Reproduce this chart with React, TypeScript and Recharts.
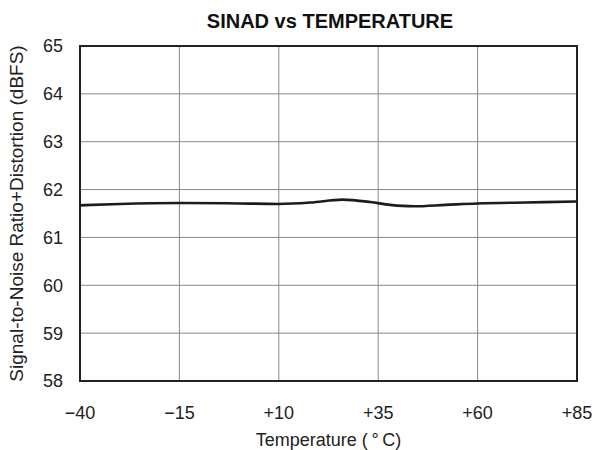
import React from "react";
import {
  LineChart,
  Line,
  XAxis,
  YAxis,
  CartesianGrid,
  ReferenceArea,
} from "recharts";

const temps = [-40, -30, -15, 0, 10, 18, 26, 33, 38, 44, 52, 60, 72, 85];
const sinad = [61.67, 61.7, 61.72, 61.71, 61.7, 61.73, 61.79, 61.74, 61.68, 61.65, 61.68, 61.71, 61.73, 61.75];
const xTicks = [-40, -15, 10, 35, 60, 85];
const yTicks = [58, 59, 60, 61, 62, 63, 64, 65];

const data = temps.map((t, i) => ({ t, v: sinad[i] }));

const FONT = '"Liberation Sans", Arial, sans-serif';
const fmtX = (v: number) => (v < 0 ? "\u2212" + Math.abs(v) : "+" + v);

export default function App() {
  return (
    <div style={{ position: "absolute", left: 0, top: 0, width: 594, height: 450, background: "#fff", fontFamily: FONT }}>
      <div
        style={{
          position: "absolute",
          left: 80,
          top: 11,
          width: 500,
          textAlign: "center",
          fontSize: 20,
          lineHeight: "20px",
          fontWeight: "bold",
          color: "#111",
        }}
      >
        SINAD vs TEMPERATURE
      </div>
      <LineChart
        width={594}
        height={450}
        data={data}
        margin={{ top: 46, right: 17, bottom: 0, left: 0 }}
      >
        <CartesianGrid stroke="#888" strokeWidth={1} />
        <XAxis
          dataKey="t"
          type="number"
          domain={[-40, 85]}
          ticks={xTicks}
          tickFormatter={fmtX}
          axisLine={false}
          tickLine={false}
          tickSize={0}
          tickMargin={25}
          height={69}
          tick={{ fill: "#222", fontSize: 18, fontFamily: FONT }}
          label={{
            value: "Temperature (\u2009\u00B0\u2009C)",
            position: "insideBottom",
            offset: 4,
            fill: "#222",
            fontSize: 18,
            fontFamily: FONT,
          }}
        />
        <YAxis
          type="number"
          domain={[58, 65]}
          ticks={yTicks}
          axisLine={false}
          tickLine={false}
          tickSize={0}
          tickMargin={17}
          width={80}
          tick={{ fill: "#222", fontSize: 18, fontFamily: FONT }}
          label={{
            value: "Signal-to-Noise Ratio+Distortion (dBFS)",
            angle: -90,
            position: "insideLeft",
            offset: 16,
            fill: "#222",
            fontSize: 19,
            fontFamily: FONT,
            style: { textAnchor: "middle" },
          }}
        />
        <ReferenceArea
          x1={-40}
          x2={85}
          y1={58}
          y2={65}
          fill="none"
          fillOpacity={0}
          stroke="#222"
          strokeWidth={2}
        />
        <Line
          type="monotone"
          dataKey="v"
          stroke="#1c1c1c"
          strokeWidth={2.6}
          dot={false}
          isAnimationActive={false}
        />
      </LineChart>
    </div>
  );
}
